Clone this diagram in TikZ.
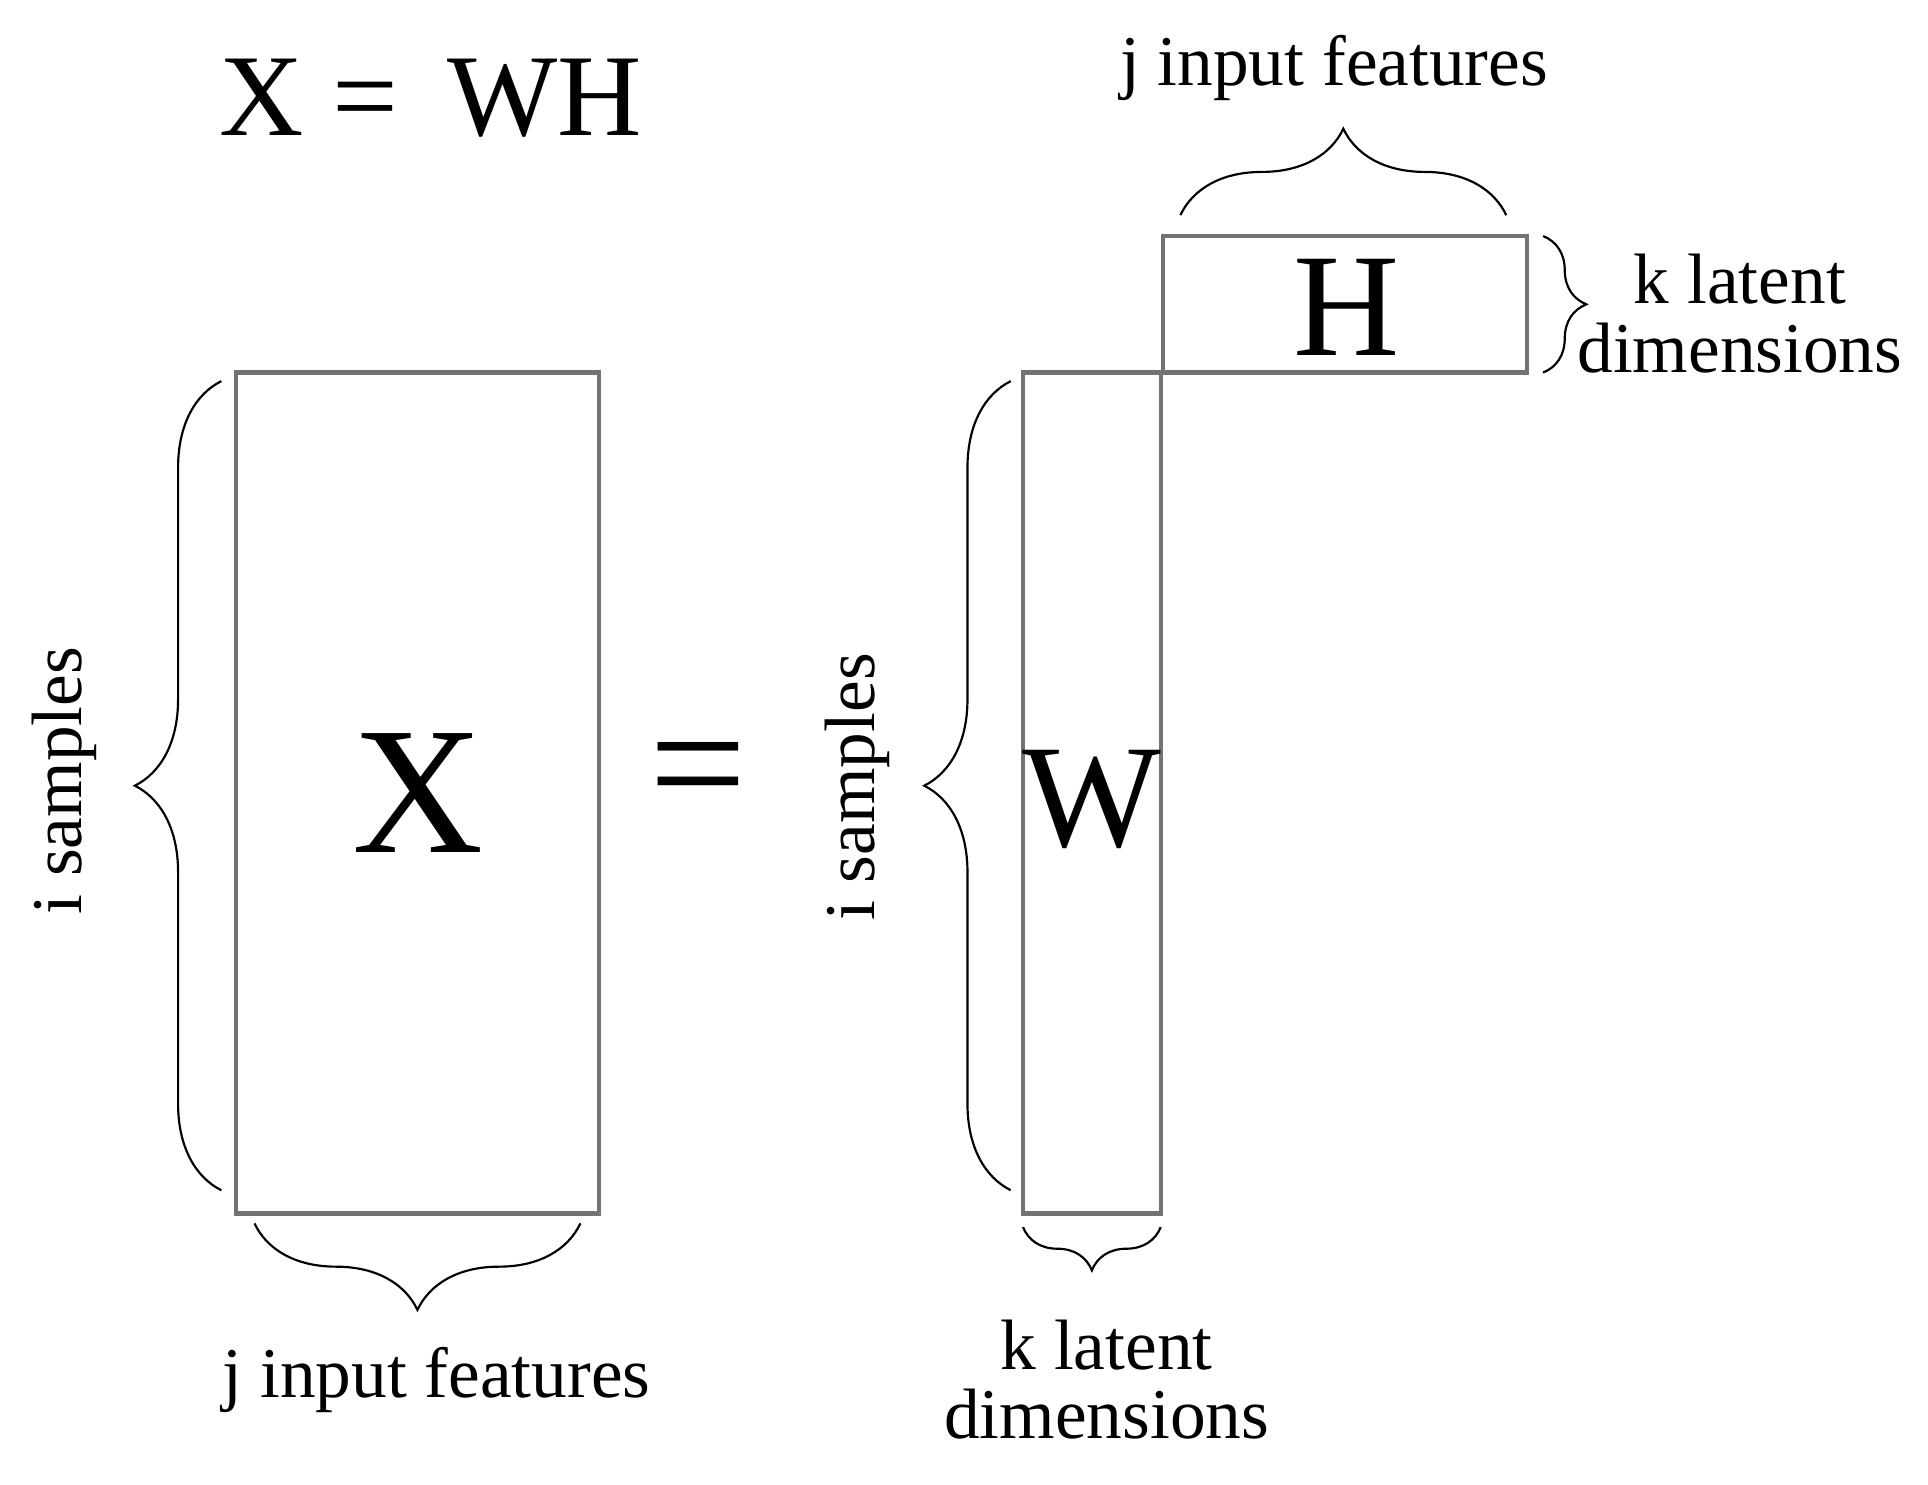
\documentclass[tikz,border=0pt]{standalone}
\usepackage{fontspec}
\setmainfont{Liberation Serif}
\usetikzlibrary{decorations.pathreplacing}
\begin{document}
\begin{tikzpicture}[x=0.01cm,y=-0.01cm,
 mat/.style={draw=black!55,line width=1pt},
 br/.style={decorate,decoration={brace,amplitude=#1},line width=0.5pt},
 lab/.style={font=\fontsize{16.5}{18}\selectfont,align=center,inner sep=0pt}]
\useasboundingbox (0,0) rectangle (1568,1207);
\node[inner sep=0pt,font=\fontsize{27}{30}\selectfont] (eq) at (350,80) {X =\, WH};
\draw[mat] (192,303) rectangle (487,987);
\node[font=\fontsize{42}{44}\selectfont] (X) at (340,645) {X};
\node[font=\fontsize{40}{42}\selectfont] (eq2) at (568,636) {=};
\draw[mat] (832,303) rectangle (944,987);
\node[font=\fontsize{34}{36}\selectfont] (W) at (888,650) {W};
\draw[mat] (946,192) rectangle (1242,303);
\node[font=\fontsize{34}{36}\selectfont] (H) at (1095,250) {H};
% braces
\draw[br=20pt] (180,968) -- (180,310);
\node[lab,rotate=90] (l1) at (52,635) {i samples};
\draw[br=20pt] (472,995) -- (207,995);
\node[lab] (l2) at (355,1122) {j input features};
\draw[br=20pt] (822,968) -- (822,310);
\node[lab,rotate=90] (l3) at (697,640) {i samples};
\draw[br=10pt] (944,998) -- (832,998);
\node[lab] (l4) at (900,1122) {k latent\\[-2pt]dimensions};
\draw[br=20pt] (960,175) -- (1225,175);
\node[lab] (l5) at (1085,55) {j input features};
\draw[br=10pt] (1255,192) -- (1255,303);
\node[lab] (l6) at (1415,255) {k latent\\[-2pt]dimensions};
\end{tikzpicture}
\end{document}
